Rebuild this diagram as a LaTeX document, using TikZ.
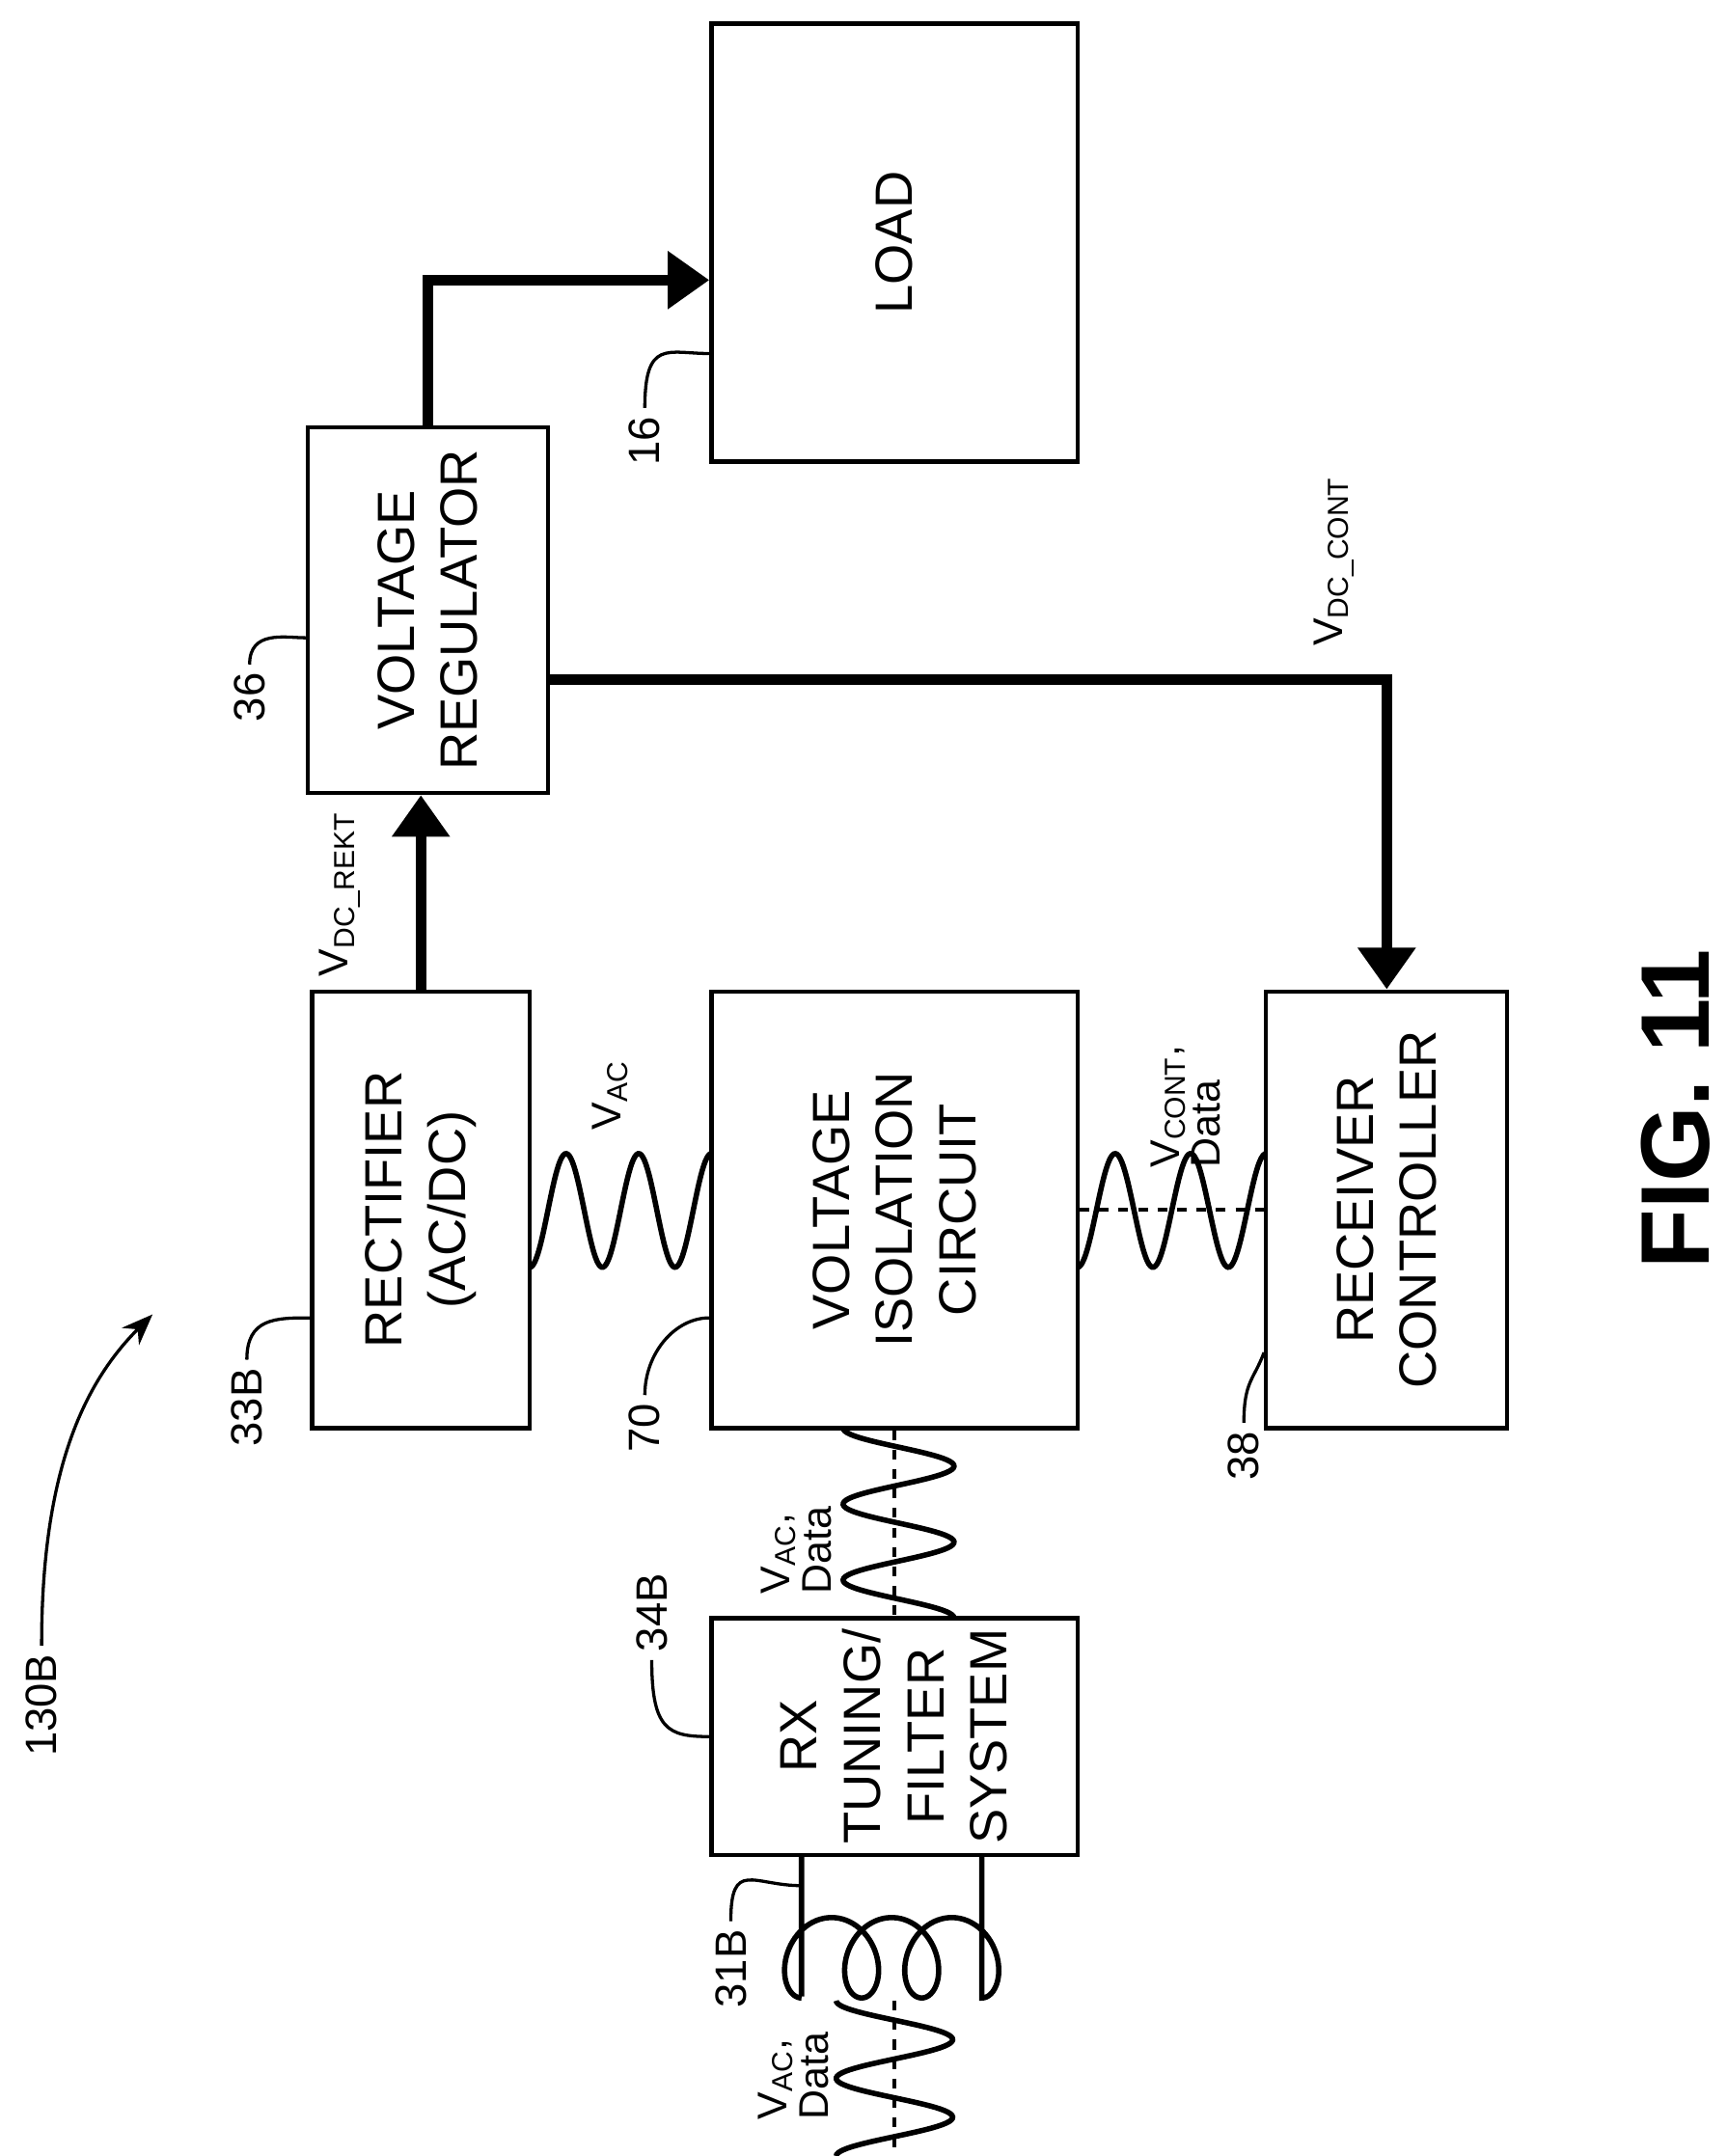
\documentclass[tikz,border=0pt]{standalone}
\usepackage{fontspec}
\setmainfont{Liberation Sans}
\usetikzlibrary{arrows.meta}

\tikzset{
  box/.style={draw, line width=1.7pt, inner sep=0pt},
  boxtext/.style={rotate=90, align=center, font=\fontsize{21.5}{26}\selectfont},
  reftext/.style={rotate=90, font=\fontsize{18}{22}\selectfont},
  sigtext/.style={rotate=90, align=left, font=\fontsize{17}{17}\selectfont},
  pwr/.style={line width=4.5pt, -{Triangle[length=0.6cm,width=0.8cm]}},
  wire/.style={line width=2.2pt},
  lead/.style={line width=1.3pt},
  mid/.style={line width=1.6pt, dash pattern=on 4pt off 4pt}
}

\begin{document}
\begin{tikzpicture}[x=0.02cm, y=-0.02cm]
  \useasboundingbox (0,0) rectangle (1245,1555);

  % blocks
  \node[box, minimum width=5.28cm, minimum height=6.32cm,
    label={[boxtext]center:LOAD}] (load) at (645,175) {};
  \node[box, minimum width=3.46cm, minimum height=5.28cm,
    label={[boxtext]center:VOLTAGE\\REGULATOR}] (volreg) at (308.5,440) {};
  \node[box, minimum width=3.14cm, minimum height=6.3cm,
    label={[boxtext]center:RECTIFIER\\(AC/DC)}] (rect) at (303.5,872.5) {};
  \node[box, minimum width=5.28cm, minimum height=6.3cm,
    label={[boxtext]center:VOLTAGE\\ISOLATION\\CIRCUIT}] (vic) at (645,872.5) {};
  \node[box, minimum width=3.48cm, minimum height=6.3cm,
    label={[boxtext]center:RECEIVER\\CONTROLLER}] (rxctl) at (1000,872.5) {};
  \node[box, minimum width=5.28cm, minimum height=3.42cm,
    label={[boxtext]center:RX\\TUNING/\\FILTER\\SYSTEM}] (rxtune) at (645,1252.5) {};

  % power paths
  \draw[pwr] (volreg.north) |- ([yshift=-0.54cm]load.west);
  \draw[pwr] ([yshift=-1cm]volreg.east) -| (rxctl.north);
  \draw[pwr] (rect.north) -- (rect.north |- volreg.south);

  % ac links
  \draw[wire] plot[domain=0:131, samples=120] ({382+\x}, {873+41*cos(\x/131*900)});
  \draw[wire] plot[domain=0:136, samples=120] ({777+\x}, {873+41*cos(\x/136*900)});
  \draw[mid] (vic.east) -- (rxctl.west);
  \draw[wire] plot[domain=0:137, samples=120] ({648-40*cos(\x/137*900)}, {1030+\x});
  \draw[mid] (vic.south) -- (rxtune.north);

  % receive coil
  \coordinate (cl) at (578,1338);
  \coordinate (cr) at (708,1338);
  \draw[wire] (cl) -- (578,1440)
    plot[domain=0:18.85, samples=200] ({578+130*\x/18.85-22*sin(\x r)}, {1412+29*cos(\x r)})
    -- (cr);
  \draw[wire] plot[domain=0:112, samples=100] ({645+42*cos(\x/112*720+180)}, {1443+\x});
  \draw[mid] (645,1443) -- (645,1555);

  % signal labels
  \node[sigtext] (sdcr) at (245,645) {V\textsubscript{DC\_REKT}};
  \node[sigtext] (sdcc) at (962,405) {V\textsubscript{DC\_CONT}};
  \node[sigtext] (sac) at (440,790) {V\textsubscript{AC}};
  \node[sigtext] (scont) at (855,798) {V\textsubscript{CONT},\\Data};
  \node[sigtext] (sacd1) at (574,1118) {V\textsubscript{AC},\\Data};
  \node[sigtext] (sacd2) at (572,1497) {V\textsubscript{AC},\\Data};

  % reference numerals
  \node[reftext] (n16) at (465,318) {16};
  \node[reftext] (n36) at (180,503) {36};
  \node[reftext] (n33) at (178,1015) {33B};
  \node[reftext] (n70) at (465,1030) {70};
  \node[reftext] (n38) at (897,1050) {38};
  \node[reftext] (n34) at (470,1163) {34B};
  \node[reftext] (n31) at (527,1420) {31B};
  \node[reftext] (n130) at (30,1230) {130B};
  \draw[lead] (n16.east) .. controls +(0,1cm) and +(-0.6cm,0) .. ([yshift=-1.6cm]load.west);
  \draw[lead] (n36.east) .. controls +(0,0.5cm) and +(-0.3cm,0) .. ([yshift=-0.4cm]volreg.west);
  \draw[lead] (n33.east) .. controls +(0,0.6cm) and +(-0.5cm,0) .. ([yshift=-1.56cm]rect.west);
  \draw[lead] (n70.east) .. controls +(0,0.6cm) and +(-0.5cm,0) .. ([yshift=-1.56cm]vic.west);
  \draw[lead] (n38.east) .. controls +(0,0.6cm) and +(-0.15cm,-0.4cm) .. ([yshift=-2.06cm]rxctl.west);
  \draw[lead] (n34.west) .. controls +(0,-1cm) and +(-0.6cm,0) .. (rxtune.west);
  \draw[lead] (n31.east) .. controls +(0,0.9cm) and +(-0.7cm,0) .. (578,1360);
  \draw[lead, -{Stealth[length=0.45cm,width=0.35cm]}] (n130.east) .. controls +(0,2.5cm) and +(-1cm,-1cm) .. (110,948);

  % figure caption
  \node[rotate=90, font=\bfseries\fontsize{40}{46}\selectfont] (fig) at (1208,800) {FIG. 11};
\end{tikzpicture}
\end{document}
